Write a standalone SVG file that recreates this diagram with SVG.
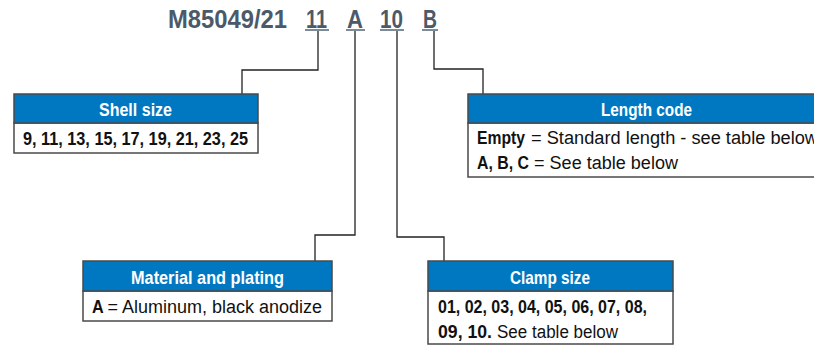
<svg xmlns="http://www.w3.org/2000/svg" width="814" height="345" viewBox="0 0 814 345">
<style>
text{font-family:"Liberation Sans",Arial,sans-serif;}
.title{font-size:26px;font-weight:bold;fill:#4b5a69;}
.hdr{fill:#0078c1;stroke:#4a4a4a;stroke-width:1.5;}
.body{fill:#fff;stroke:#4a4a4a;stroke-width:1.5;}
.ht{font-size:18.5px;font-weight:bold;fill:#fff;}
.bt{font-size:18px;fill:#111;}
.b{font-weight:bold;font-size:18.5px;}
.ul{stroke:#7d8b99;stroke-width:2;}
.conn{fill:none;stroke:#222;stroke-width:1.3;}
</style>
<g id="title">
<text class="title" x="168" y="28" textLength="119" lengthAdjust="spacingAndGlyphs">M85049/21</text>
<text class="title" x="306" y="28" textLength="21" lengthAdjust="spacingAndGlyphs">11</text>
<text class="title" x="347" y="28" textLength="16" lengthAdjust="spacingAndGlyphs">A</text>
<text class="title" x="380" y="28" textLength="23" lengthAdjust="spacingAndGlyphs">10</text>
<text class="title" x="423" y="28" textLength="14" lengthAdjust="spacingAndGlyphs">B</text>
<line class="ul" x1="305" y1="30" x2="329" y2="30"/>
<line class="ul" x1="346" y1="30" x2="365" y2="30"/>
<line class="ul" x1="380" y1="30" x2="404" y2="30"/>
<line class="ul" x1="422" y1="30" x2="438" y2="30"/>
</g>
<g id="connectors">
<polyline class="conn" points="318,31 318,70 242,70 242,94"/>
<polyline class="conn" points="355,31 355,235 315,235 315,261"/>
<polyline class="conn" points="397,31 397,237 444,237 444,261"/>
<polyline class="conn" points="434,31 434,69 483,69 483,94"/>
</g>
<g id="shell-size">
<rect class="body" x="14" y="123" width="244" height="30"/>
<rect class="hdr" x="14" y="94" width="244" height="29"/>
<text class="ht" x="99" y="116" textLength="73" lengthAdjust="spacingAndGlyphs">Shell size</text>
<text class="bt b" x="23" y="145" textLength="225" lengthAdjust="spacingAndGlyphs">9, 11, 13, 15, 17, 19, 21, 23, 25</text>
</g>
<g id="length-code">
<rect class="body" x="468" y="123" width="358" height="54"/>
<rect class="hdr" x="468" y="94" width="358" height="29"/>
<text class="ht" x="601" y="116" textLength="91" lengthAdjust="spacingAndGlyphs">Length code</text>
<text class="bt b" x="477" y="144" textLength="48" lengthAdjust="spacingAndGlyphs">Empty</text>
<text class="bt" x="531" y="144" textLength="287" lengthAdjust="spacingAndGlyphs">= Standard length - see table below</text>
<text class="bt b" x="477" y="169" textLength="52" lengthAdjust="spacingAndGlyphs">A, B, C</text>
<text class="bt" x="534" y="169" textLength="144" lengthAdjust="spacingAndGlyphs">= See table below</text>
</g>
<g id="material">
<rect class="body" x="83" y="291" width="249" height="30"/>
<rect class="hdr" x="83" y="261" width="249" height="30"/>
<text class="ht" x="131" y="284" textLength="153" lengthAdjust="spacingAndGlyphs">Material and plating</text>
<text class="bt b" x="92" y="313" textLength="11.7" lengthAdjust="spacingAndGlyphs">A</text>
<text class="bt" x="107.5" y="313" textLength="214.5" lengthAdjust="spacingAndGlyphs">= Aluminum, black anodize</text>
</g>
<g id="clamp-size">
<rect class="body" x="428" y="291" width="245" height="53"/>
<rect class="hdr" x="428" y="261" width="245" height="30"/>
<text class="ht" x="510" y="284" textLength="80" lengthAdjust="spacingAndGlyphs">Clamp size</text>
<text class="bt b" x="438" y="313" textLength="209" lengthAdjust="spacingAndGlyphs">01, 02, 03, 04, 05, 06, 07, 08,</text>
<text class="bt b" x="438" y="338" textLength="54" lengthAdjust="spacingAndGlyphs">09, 10.</text>
<text class="bt" x="497" y="338" textLength="121" lengthAdjust="spacingAndGlyphs">See table below</text>
</g>
</svg>
